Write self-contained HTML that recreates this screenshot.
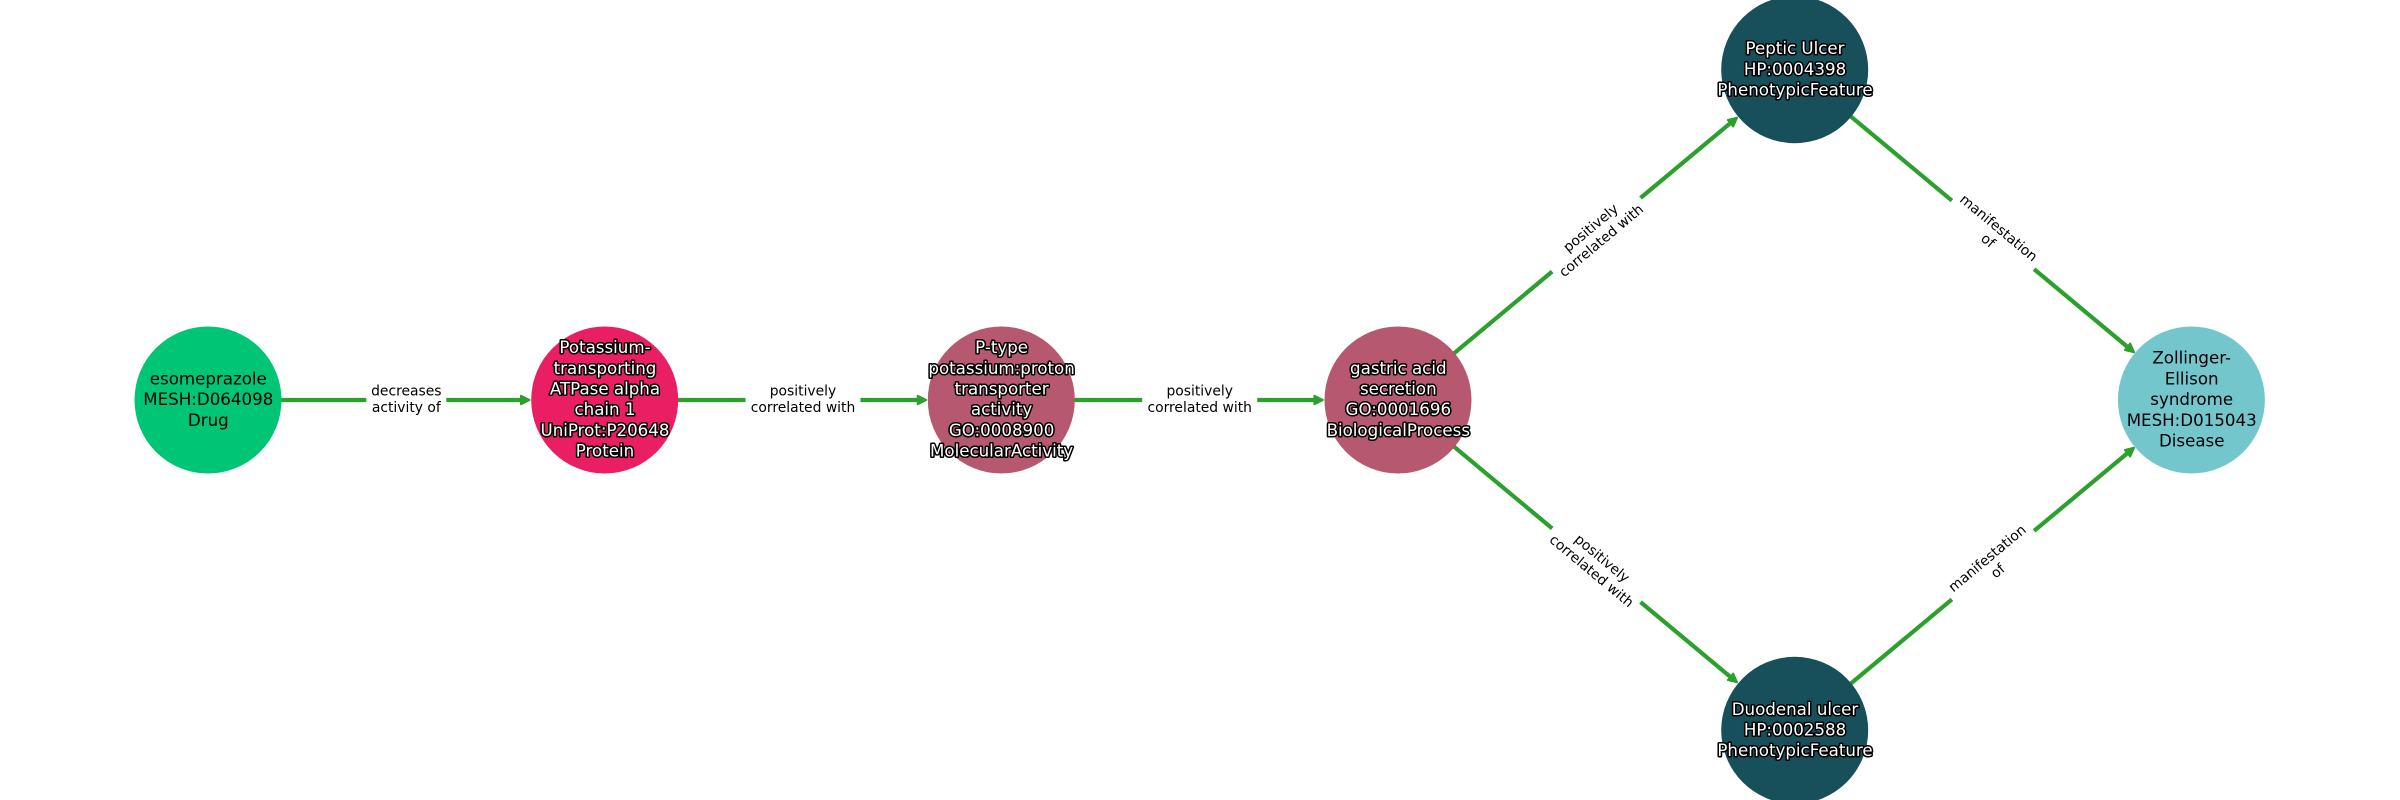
<!DOCTYPE html>
<html><head><meta charset="utf-8"><style>
html,body{margin:0;padding:0;background:#fff}
svg{display:block}
text{font-family:"DejaVu Sans",sans-serif;text-anchor:middle}
.n{font-size:16.67px;fill:#000}
.o{font-size:16.67px;fill:#fff;stroke:#000;stroke-width:3.1px;paint-order:stroke;stroke-linejoin:round}
.e{font-size:13.89px;fill:#000}
.l{stroke:#2ca02c;stroke-width:4.2;fill:none}
.h{fill:#2ca02c;stroke:#2ca02c;stroke-width:2;stroke-linejoin:round}
</style></head><body>
<svg width="2400" height="800" viewBox="0 0 2400 800" xmlns="http://www.w3.org/2000/svg">
<rect width="2400" height="800" fill="#fff"/>
<!-- edges -->
<line class="l" x1="208" y1="400" x2="522" y2="400"/>
<line class="l" x1="604.7" y1="400" x2="919" y2="400"/>
<line class="l" x1="1001.3" y1="400" x2="1316" y2="400"/>
<line class="l" x1="1398" y1="400" x2="1730.5" y2="123"/>
<line class="l" x1="1398" y1="400" x2="1730.5" y2="677"/>
<line class="l" x1="1794.7" y1="69.7" x2="2127" y2="346.5"/>
<line class="l" x1="1794.7" y1="730.3" x2="2127" y2="453.5"/>
<!-- arrowheads -->
<polygon class="h" transform="translate(531,400)" points="-1.5,0 -10,-4.2 -10,4.2"/>
<polygon class="h" transform="translate(927.7,400)" points="-1.5,0 -10,-4.2 -10,4.2"/>
<polygon class="h" transform="translate(1324.4,400)" points="-1.5,0 -10,-4.2 -10,4.2"/>
<polygon class="h" transform="translate(1738.2,116.8) rotate(-39.8)" points="-1.5,0 -10,-4.2 -10,4.2"/>
<polygon class="h" transform="translate(1738.2,683.2) rotate(39.8)" points="-1.5,0 -10,-4.2 -10,4.2"/>
<polygon class="h" transform="translate(2135.2,353.2) rotate(39.8)" points="-1.5,0 -10,-4.2 -10,4.2"/>
<polygon class="h" transform="translate(2135.2,446.8) rotate(-39.8)" points="-1.5,0 -10,-4.2 -10,4.2"/>
<!-- edge labels -->
<g transform="translate(406.3,400)"><rect x="-40" y="-20" width="80" height="40" fill="#fff"/><text class="e" y="-4.3">decreases</text><text class="e" y="12.2">activity of</text></g>
<g transform="translate(803,400)"><rect x="-57.5" y="-20" width="115" height="40" fill="#fff"/><text class="e" y="-4.3">positively</text><text class="e" y="12.2">correlated with</text></g>
<g transform="translate(1199.7,400)"><rect x="-57.5" y="-20" width="115" height="40" fill="#fff"/><text class="e" y="-4.3">positively</text><text class="e" y="12.2">correlated with</text></g>
<g transform="translate(1596.4,234.8) rotate(-39.8)"><rect x="-57.5" y="-20" width="115" height="40" fill="#fff"/><text class="e" y="-4.3">positively</text><text class="e" y="12.2">correlated with</text></g>
<g transform="translate(1596.4,565.2) rotate(39.8)"><rect x="-57.5" y="-20" width="115" height="40" fill="#fff"/><text class="e" y="-4.3">positively</text><text class="e" y="12.2">correlated with</text></g>
<g transform="translate(1993,234.8) rotate(39.8)"><rect x="-53.5" y="-20" width="107" height="40" fill="#fff"/><text class="e" y="-4.3">manifestation</text><text class="e" y="12.2">of</text></g>
<g transform="translate(1993,565.2) rotate(-39.8)"><rect x="-53.5" y="-20" width="107" height="40" fill="#fff"/><text class="e" y="-4.3">manifestation</text><text class="e" y="12.2">of</text></g>
<!-- nodes -->
<circle cx="208" cy="400" r="73.5" fill="#00c574"/>
<circle cx="604.7" cy="400" r="73.5" fill="#e91e63"/>
<circle cx="1001.3" cy="400" r="73.5" fill="#b6586f"/>
<circle cx="1398" cy="400" r="73.5" fill="#b6586f"/>
<circle cx="1794.7" cy="69.7" r="73.5" fill="#174f5a"/>
<circle cx="1794.7" cy="730.3" r="73.5" fill="#174f5a"/>
<circle cx="2191.4" cy="400" r="73.5" fill="#72c6cc"/>
<!-- node labels -->
<text class="n" x="208.3" y="384.5">esomeprazole</text>
<text class="n" x="208.3" y="405.2">MESH:D064098</text>
<text class="n" x="208.3" y="426">Drug</text>
<text class="o" x="605" y="353">Potassium-</text>
<text class="o" x="605" y="373.8">transporting</text>
<text class="o" x="605" y="394.5">ATPase alpha</text>
<text class="o" x="605" y="415.2">chain 1</text>
<text class="o" x="605" y="436">UniProt:P20648</text>
<text class="o" x="605" y="456.7">Protein</text>
<text class="o" x="1001.6" y="353">P-type</text>
<text class="o" x="1001.6" y="373.8">potassium:proton</text>
<text class="o" x="1001.6" y="394.5">transporter</text>
<text class="o" x="1001.6" y="415.2">activity</text>
<text class="o" x="1001.6" y="436">GO:0008900</text>
<text class="o" x="1001.6" y="456.7">MolecularActivity</text>
<text class="o" x="1398.3" y="373.8">gastric acid</text>
<text class="o" x="1398.3" y="394.5">secretion</text>
<text class="o" x="1398.3" y="415.2">GO:0001696</text>
<text class="o" x="1398.3" y="436">BiologicalProcess</text>
<text class="o" x="1795" y="54.2">Peptic Ulcer</text>
<text class="o" x="1795" y="74.9">HP:0004398</text>
<text class="o" x="1795" y="95.6">PhenotypicFeature</text>
<text class="o" x="1795" y="714.8">Duodenal ulcer</text>
<text class="o" x="1795" y="735.5">HP:0002588</text>
<text class="o" x="1795" y="756.2">PhenotypicFeature</text>
<text class="n" x="2191.7" y="363.6">Zollinger-</text>
<text class="n" x="2191.7" y="384.4">Ellison</text>
<text class="n" x="2191.7" y="405.2">syndrome</text>
<text class="n" x="2191.7" y="426">MESH:D015043</text>
<text class="n" x="2191.7" y="446.7">Disease</text>
</svg>
</body></html>
